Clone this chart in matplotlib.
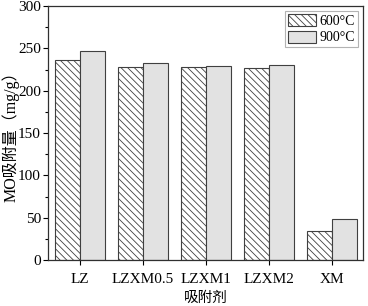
import numpy as np
import matplotlib.pyplot as plt
from matplotlib.ticker import MultipleLocator

plt.rcParams['font.family'] = ['Liberation Serif', 'Noto Sans CJK SC']
plt.rcParams['hatch.color'] = '#707070'
plt.rcParams['hatch.linewidth'] = 0.6

# adsorbents and adsorption capacity (mg/g)
samples = ['LZ', 'LZXM0.5', 'LZXM1', 'LZXM2', 'XM']
q_600 = [236.5, 228.2, 228.0, 227.2, 34.8]
q_900 = [246.8, 233.0, 229.3, 231.0, 48.3]
labels = ['600°C', '900°C']

fig = plt.figure(figsize=(3.68, 3.06), dpi=100)
ax = fig.add_axes([0.1304, 0.150, 0.856, 0.830])

x = np.arange(len(samples))
w = 0.4
ax.bar(x - w/2, q_600, w, facecolor='white', edgecolor='#404040',
       linewidth=0.8, hatch='\\\\\\\\\\', label=labels[0])
ax.bar(x + w/2, q_900, w, facecolor='#e2e2e2', edgecolor='#404040',
       linewidth=0.8, label=labels[1])

ax.set_xlim(-0.51, 4.49)
ax.set_ylim(0, 300)
ax.set_xticks(x)
ax.set_xticklabels(samples)
ax.yaxis.set_major_locator(MultipleLocator(50))
ax.yaxis.set_minor_locator(MultipleLocator(25))
ax.tick_params(direction='out', labelsize=11, width=0.8, length=3.6)
ax.tick_params(which='minor', direction='out', width=0.8, length=2)
ax.tick_params(axis='x', pad=6)
ax.tick_params(axis='y', pad=1.5)
for s in ax.spines.values():
    s.set_linewidth(0.9)
    s.set_color('#303030')

ax.set_xlabel('吸附剂', fontsize=10.5, labelpad=4)
ax.set_ylabel('MO吸附量（mg/g）', fontsize=11.5)
ax.yaxis.set_label_coords(-0.09, 0.5)

leg = ax.legend(loc='upper right', fontsize=10, frameon=True, fancybox=False,
                edgecolor='#a0a0a0', handlelength=2.0, handleheight=1.0,
                handletextpad=0.3, borderpad=0.2, labelspacing=0.2,
                borderaxespad=0.35)
leg.get_frame().set_linewidth(0.8)

fig.savefig('out.png', dpi=100)
